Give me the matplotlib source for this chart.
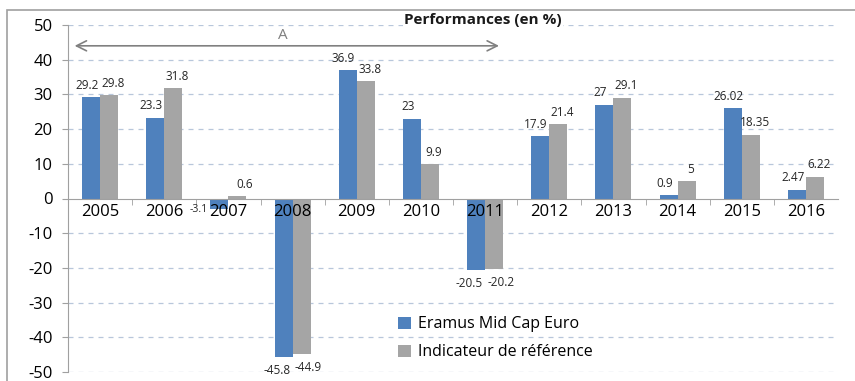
import matplotlib
matplotlib.use("Agg")
import matplotlib.pyplot as plt
from matplotlib.patches import Rectangle
import numpy as np

years = ["2005", "2006", "2007", "2008", "2009", "2010",
         "2011", "2012", "2013", "2014", "2015", "2016"]
fund = [29.2, 23.3, -3.1, -45.8, 36.9, 23, -20.5, 17.9, 27, 0.9, 26.02, 2.47]
bench = [29.8, 31.8, 0.6, -44.9, 33.8, 9.9, -20.2, 21.4, 29.1, 5, 18.35, 6.22]
fund_labels = ["29.2", "23.3", "-3.1", "-45.8", "36.9", "23", "-20.5", "17.9", "27", "0.9", "26.02", "2.47"]
bench_labels = ["29.8", "31.8", "0.6", "-44.9", "33.8", "9.9", "-20.2", "21.4", "29.1", "5", "18.35", "6.22"]
y_ticks = list(range(-50, 51, 10))

BLUE = "#4F81BD"
GREY = "#A5A5A5"
plt.rcParams["font.family"] = ["Open Sans", "DejaVu Sans"]

fig = plt.figure(figsize=(8.55, 3.81), dpi=100)
# outer frame
fig.patches.append(Rectangle((7 / 855, -0.05), 1.0, 1.0 - 10 / 381 + 0.05,
                             transform=fig.transFigure, fill=False,
                             edgecolor="#A0A0A0", linewidth=1.2))
ax = fig.add_axes([68 / 855, 9 / 381, 770 / 855, 347 / 381])
ax.set_axisbelow(False)

x = np.arange(len(years))
w = 0.28
ax.bar(x - w / 2, fund, w, color=BLUE, label="Eramus Mid Cap Euro", zorder=2)
ax.bar(x + w / 2, bench, w, color=GREY, label="Indicateur de référence", zorder=2)

ax.set_xlim(-0.5, len(years) - 0.5)
ax.set_ylim(-50, 50)
ax.set_yticks(y_ticks)
ax.set_yticklabels([str(t) for t in y_ticks], fontsize=12)
for t in y_ticks:
    if t != 0:
        ax.axhline(t, color="#B8C7DB", linewidth=0.9, linestyle=(0, (4, 4)), zorder=1)

for s in ["top", "right"]:
    ax.spines[s].set_visible(False)
ax.spines["left"].set_color("#A0A0A0")
ax.spines["bottom"].set_color("#A0A0A0")
ax.spines["bottom"].set_position(("data", 0))
ax.tick_params(axis="y", length=4, color="#A0A0A0", pad=7)
ax.set_xticks(x)
ax.set_xticklabels(years, fontsize=12)
ax.tick_params(axis="x", length=0, pad=4)
ax.set_xticks(x[:-1] + 0.5, minor=True)
ax.tick_params(axis="x", which="minor", length=4, color="#A0A0A0", direction="out")

# data labels
def put_label(xpos, val, txt, dx=0):
    off = 4 if val >= 0 else -5
    ax.annotate(txt, (xpos, val), xytext=(dx, off), textcoords="offset points",
                ha="center", va="bottom" if val >= 0 else "top",
                fontsize=8.5, color="#262626", zorder=5)

for i in range(len(years)):
    spread = 3 if fund[i] >= 0 else 5
    if fund_labels[i] == "-3.1":
        # small bar: label sits to the left, just under the axis
        ax.annotate(fund_labels[i], (x[i] - w, 0), xytext=(-2, -4),
                    textcoords="offset points", ha="right", va="top",
                    fontsize=7.5, color="#262626")
    else:
        put_label(x[i] - w / 2, fund[i], fund_labels[i], dx=-spread)
    put_label(x[i] + w / 2, bench[i], bench_labels[i], dx=spread)

# period arrow
ax.annotate("", xy=(-0.44, 44), xytext=(6.26, 44),
            arrowprops=dict(arrowstyle="<->", color="#808080", lw=1.2,
                            mutation_scale=18))
ax.text(2.85, 47, "A", ha="center", va="center", fontsize=11, color="#808080")

fig.text(483 / 855, 1 - 20 / 381, "Performances (en %)", ha="center", va="center",
         fontsize=11, fontweight="bold", color="#1a1a1a",
         bbox=dict(facecolor="white", edgecolor="none", pad=1))

ax.legend(loc="upper left", bbox_to_anchor=(392 / 855, 1 - 310 / 381),
          bbox_transform=fig.transFigure, frameon=False, fontsize=11.5,
          handlelength=0.8, handleheight=0.8, handletextpad=0.4, labelspacing=0.75,
          borderaxespad=0)

fig.savefig("out.png", dpi=100)
